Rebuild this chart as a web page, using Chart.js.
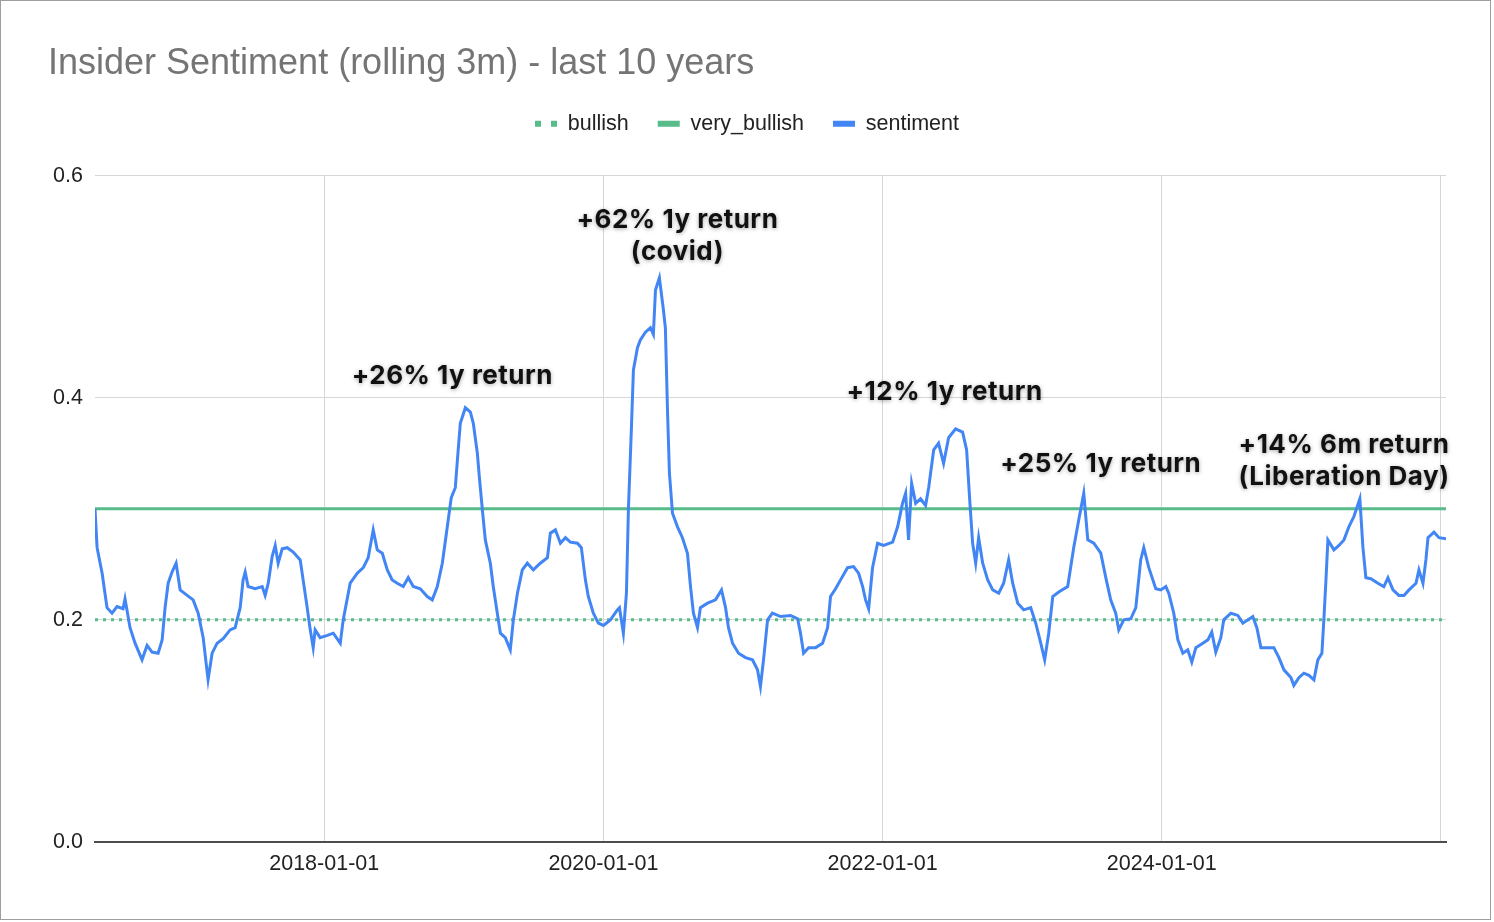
<!DOCTYPE html>
<html><head><meta charset="utf-8">
<script src="https://cdn.jsdelivr.net/npm/chart.js@4"></script>
<style>html,body{margin:0;padding:0;background:#fff;}canvas{display:block;}</style>
</head><body>
<canvas id="c" width="1494" height="922" style="width:1494px;height:922px"></canvas>
<script>
// ---- data (dates as decimal years) ----
const sentimentDates = [
2016.358,2016.373,2016.409,2016.444,2016.480,2016.516,2016.559,2016.573,2016.609,2016.645,
2016.695,2016.731,2016.767,2016.810,2016.839,2016.860,2016.882,2016.910,2016.939,2016.968,
2017.018,2017.061,2017.097,2017.133,2017.154,2017.168,2017.197,2017.233,2017.276,2017.326,
2017.362,2017.398,2017.419,2017.434,2017.455,2017.505,2017.556,2017.577,2017.599,2017.627,
2017.649,2017.670,2017.699,2017.735,2017.778,2017.828,2017.849,2017.878,2017.900,2017.921,
2017.935,2017.971,2018.022,2018.065,2018.115,2018.136,2018.186,2018.237,2018.280,2018.315,
2018.351,2018.380,2018.416,2018.452,2018.487,2018.523,2018.566,2018.602,2018.638,2018.688,
2018.738,2018.774,2018.810,2018.846,2018.882,2018.910,2018.939,2018.961,2018.975,2019.011,
2019.047,2019.068,2019.097,2019.111,2019.133,2019.154,2019.190,2019.211,2019.240,2019.262,
2019.297,2019.333,2019.355,2019.384,2019.419,2019.455,2019.498,2019.548,2019.599,2019.620,
2019.656,2019.692,2019.728,2019.763,2019.814,2019.842,2019.871,2019.892,2019.928,2019.964,
2020.000,2020.050,2020.100,2020.115,2020.143,2020.165,2020.179,2020.201,2020.215,2020.244,
2020.265,2020.301,2020.337,2020.358,2020.373,2020.401,2020.430,2020.444,2020.459,2020.473,
2020.495,2020.530,2020.566,2020.602,2020.624,2020.645,2020.674,2020.695,2020.746,2020.803,
2020.846,2020.875,2020.896,2020.925,2020.968,2021.018,2021.068,2021.104,2021.125,2021.147,
2021.176,2021.211,2021.269,2021.341,2021.391,2021.412,2021.434,2021.470,2021.520,2021.570,
2021.606,2021.627,2021.663,2021.699,2021.749,2021.792,2021.828,2021.857,2021.878,2021.900,
2021.928,2021.964,2022.007,2022.072,2022.108,2022.143,2022.165,2022.186,2022.208,2022.237,
2022.272,2022.308,2022.330,2022.366,2022.401,2022.437,2022.473,2022.523,2022.573,2022.602,
2022.624,2022.645,2022.667,2022.688,2022.717,2022.753,2022.789,2022.832,2022.867,2022.903,
2022.932,2022.968,2023.011,2023.061,2023.097,2023.133,2023.161,2023.190,2023.219,2023.262,
2023.326,2023.369,2023.405,2023.441,2023.470,2023.513,2023.563,2023.599,2023.634,2023.670,
2023.692,2023.728,2023.778,2023.814,2023.849,2023.871,2023.907,2023.957,2023.993,2024.029,
2024.050,2024.086,2024.115,2024.151,2024.186,2024.215,2024.244,2024.294,2024.330,2024.358,
2024.387,2024.423,2024.444,2024.495,2024.545,2024.581,2024.616,2024.652,2024.681,2024.710,
2024.760,2024.803,2024.839,2024.875,2024.925,2024.946,2024.982,2025.018,2025.054,2025.090,
2025.118,2025.147,2025.161,2025.176,2025.190,2025.233,2025.269,2025.305,2025.341,2025.376,
2025.419,2025.441,2025.462,2025.498,2025.548,2025.591,2025.620,2025.656,2025.699,2025.735,
2025.771,2025.821,2025.842,2025.871,2025.892,2025.907,2025.950,2025.986,2026.036
];
const sentimentValues = [
0.300,0.265,0.242,0.211,0.206,0.212,0.210,0.219,0.193,0.179,
0.164,0.177,0.171,0.170,0.182,0.211,0.233,0.243,0.251,0.227,
0.222,0.218,0.206,0.184,0.161,0.146,0.170,0.179,0.183,0.191,
0.193,0.211,0.236,0.243,0.230,0.228,0.230,0.222,0.233,0.257,
0.267,0.251,0.264,0.265,0.261,0.254,0.236,0.211,0.191,0.175,
0.191,0.184,0.186,0.188,0.179,0.200,0.233,0.242,0.247,0.256,
0.281,0.263,0.260,0.245,0.236,0.233,0.230,0.238,0.230,0.228,
0.221,0.218,0.230,0.251,0.284,0.310,0.319,0.355,0.377,0.391,
0.387,0.377,0.350,0.329,0.299,0.272,0.251,0.230,0.206,0.188,
0.184,0.173,0.200,0.224,0.245,0.251,0.245,0.251,0.256,0.278,
0.281,0.269,0.274,0.270,0.269,0.265,0.236,0.221,0.206,0.197,
0.195,0.200,0.209,0.211,0.188,0.224,0.299,0.374,0.425,0.445,
0.452,0.459,0.463,0.457,0.497,0.508,0.479,0.463,0.389,0.332,
0.296,0.284,0.274,0.260,0.230,0.206,0.193,0.211,0.215,0.218,
0.227,0.211,0.193,0.179,0.170,0.166,0.164,0.155,0.140,0.164,
0.200,0.206,0.203,0.204,0.201,0.188,0.170,0.175,0.175,0.179,
0.193,0.221,0.228,0.236,0.247,0.248,0.242,0.230,0.218,0.210,
0.247,0.269,0.267,0.270,0.284,0.305,0.314,0.272,0.323,0.305,
0.309,0.303,0.319,0.353,0.359,0.341,0.364,0.372,0.369,0.353,
0.308,0.269,0.251,0.274,0.251,0.236,0.227,0.224,0.233,0.254,
0.233,0.215,0.209,0.211,0.197,0.179,0.164,0.188,0.221,0.225,
0.230,0.265,0.290,0.314,0.272,0.269,0.260,0.238,0.218,0.206,
0.191,0.200,0.201,0.211,0.254,0.265,0.247,0.228,0.227,0.230,
0.224,0.206,0.182,0.170,0.173,0.162,0.175,0.179,0.182,0.189,
0.171,0.184,0.200,0.206,0.204,0.197,0.200,0.203,0.193,0.175,
0.175,0.175,0.166,0.155,0.148,0.141,0.148,0.152,0.150,0.146,
0.164,0.170,0.200,0.236,0.272,0.263,0.267,0.272,0.284,0.293,
0.309,0.265,0.238,0.237,0.233,0.230,0.238,0.227,0.222,0.222,
0.227,0.233,0.245,0.233,0.254,0.274,0.279,0.274,0.273
];
const bullishLevel = 0.2;
const veryBullishLevel = 0.3;
const seriesNames = ['bullish', 'very_bullish', 'sentiment'];
const xTickValues = [2018, 2020, 2022, 2024, 2026];
const xTickLabels = ['2018-01-01', '2020-01-01', '2022-01-01', '2024-01-01', ''];
const yTickValues = [0, 0.2, 0.4, 0.6];
const annotationLines = [
  ['+26% 1y return'],
  ['+62% 1y return', '(covid)'],
  ['+12% 1y return'],
  ['+25% 1y return'],
  ['+14% 6m return', '(Liberation Day)']
];
const annotationDates = [2018.918, 2020.530, 2022.444, 2023.563, 2025.305];
const annotationValues = [0.419, 0.560, 0.405, 0.340, 0.357];

// ---- styling / rendering ----
const FONT = "'Liberation Sans', Arial, sans-serif";
const GREEN = '#57bb8a';
const BLUE = '#4285f4';

const framePlugin = {
  id: 'frame',
  beforeDraw(chart) {
    const c = chart.ctx;
    c.save();
    c.fillStyle = '#fff';
    c.fillRect(0, 0, chart.width, chart.height);
    c.strokeStyle = '#9e9e9e';
    c.lineWidth = 1;
    c.strokeRect(0.5, 0.5, 1490, 919);
    c.restore();
  }
};

const legendGapPlugin = {
  id: 'legendGap',
  afterInit(chart) {
    const lg = chart.legend;
    if (lg && !lg._gapPatched) {
      const fit = lg.fit;
      lg.fit = function () { fit.call(this); this.height += 31; };
      lg._gapPatched = true;
    }
  }
};

const notesPlugin = {
  id: 'notes',
  afterDatasetsDraw(chart) {
    const { ctx, scales: { x, y } } = chart;
    ctx.save();
    ctx.font = "700 26px Inter, 'Open Sans', sans-serif";
    try { ctx.letterSpacing = '0.5px'; } catch (e) {}
    ctx.fillStyle = '#111';
    ctx.textAlign = 'center';
    ctx.textBaseline = 'middle';
    ctx.shadowColor = 'rgba(0,0,0,0.35)';
    ctx.shadowBlur = 4;
    ctx.shadowOffsetY = 1;
    annotationLines.forEach((lines, i) => {
      const px = x.getPixelForValue(annotationDates[i]);
      const py = y.getPixelForValue(annotationValues[i]);
      lines.forEach((t, j) => ctx.fillText(t, px, py + j * 32));
    });
    ctx.restore();
  }
};

new Chart(document.getElementById('c'), {
  type: 'line',
  data: {
    datasets: [
      { label: seriesNames[0], data: sentimentDates.map(d => ({ x: d, y: bullishLevel })),
        borderColor: GREEN, backgroundColor: GREEN, borderWidth: 3, borderDash: [3, 5], pointRadius: 0, order: 2 },
      { label: seriesNames[1], data: sentimentDates.map(d => ({ x: d, y: veryBullishLevel })),
        borderColor: GREEN, backgroundColor: GREEN, borderWidth: 3, pointRadius: 0, order: 1 },
      { label: seriesNames[2], data: sentimentDates.map((d, i) => ({ x: d, y: sentimentValues[i] })),
        borderColor: BLUE, backgroundColor: BLUE, borderWidth: 3, pointRadius: 0, order: 0 }
    ]
  },
  options: {
    responsive: false,
    animation: false,
    devicePixelRatio: 1,
    layout: { padding: { left: 48, right: 48, top: 0, bottom: 0 } },
    plugins: {
      title: {
        display: true, text: 'Insider Sentiment (rolling 3m) - last 10 years', align: 'start',
        color: '#757575', font: { family: FONT, size: 36, weight: 'normal', lineHeight: 1.1 },
        padding: { top: 44.5, bottom: 0 }
      },
      legend: {
        display: true, position: 'top', align: 'center',
        labels: {
          usePointStyle: true, pointStyle: 'line', pointStyleWidth: 22, padding: 29,
          color: '#222', font: { family: FONT, size: 21.5 },
          generateLabels(chart) {
            return chart.data.datasets.map((ds, i) => ({
              text: ds.label, datasetIndex: i, fillStyle: ds.borderColor, strokeStyle: ds.borderColor,
              lineWidth: 6, lineDash: i === 0 ? [6, 10] : [], lineCap: 'butt', pointStyle: 'line',
              hidden: false, fontColor: '#222'
            }));
          },
          sort: (a, b) => a.datasetIndex - b.datasetIndex
        }
      },
      tooltip: { enabled: false }
    },
    scales: {
      x: {
        type: 'linear',
        min: sentimentDates[0],
        max: sentimentDates[sentimentDates.length - 1],
        afterBuildTicks(s) { s.ticks = xTickValues.map(v => ({ value: v })); },
        afterFit(s) { s.height = 80; },
        ticks: {
          callback: (v, i) => xTickLabels[i],
          autoSkip: false, maxRotation: 0, padding: 9,
          color: '#222', font: { family: FONT, size: 21.5 }
        },
        grid: { color: '#d6d6d6', lineWidth: 1, drawTicks: false },
        border: { display: true, color: '#4d4d4d', width: 2 }
      },
      y: {
        min: 0, max: 0.6,
        afterBuildTicks(s) { s.ticks = yTickValues.map(v => ({ value: v })); },
        afterFit(s) { s.width = 47; },
        ticks: { callback: v => v.toFixed(1), padding: 12, color: '#222', font: { family: FONT, size: 21.5 } },
        grid: { color: '#d6d6d6', lineWidth: 1, drawTicks: false },
        border: { display: false }
      }
    }
  },
  plugins: [framePlugin, legendGapPlugin, notesPlugin]
});
</script>
</body></html>
